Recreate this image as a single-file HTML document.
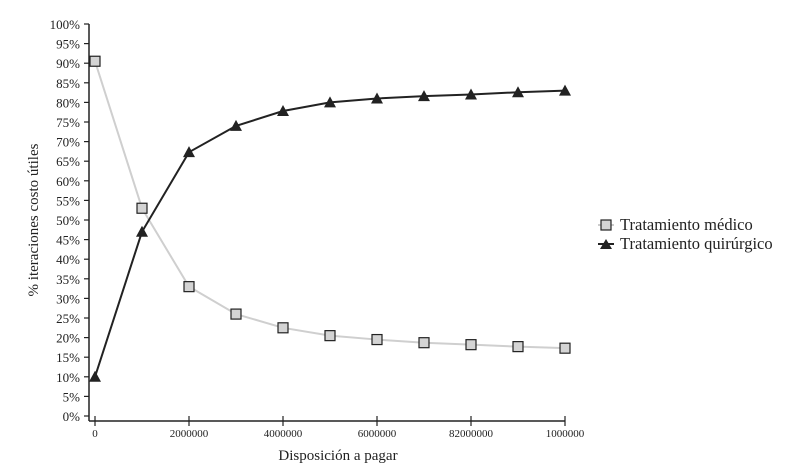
<!DOCTYPE html>
<html><head><meta charset="utf-8"><style>
body{margin:0;background:#fff}
svg text{font-family:"Liberation Serif",serif;fill:#222}
</style></head><body>
<svg id="c" width="802" height="468">
<g id="axes"></g><g id="series"></g>
<g>
<g>
<line x1="598" y1="225" x2="614" y2="225" stroke="#ccc" stroke-width="2"/>
<rect x="601" y="220" width="10" height="10" fill="#d4d4d4" stroke="#222" stroke-width="1.2"/>
<text x="620" y="230" font-size="16.5">Tratamiento médico</text></g>
<g>
<line x1="598" y1="244" x2="614" y2="244" stroke="#222" stroke-width="2"/>
<polygon points="600,249 612,249 606,239" fill="#222"/>
<text x="620" y="249" font-size="16.5">Tratamiento quirúrgico</text></g>
</g>
<text transform="translate(38,220) rotate(-90)" text-anchor="middle" font-size="15">% iteraciones costo útiles</text>
<text x="338" y="460" text-anchor="middle" font-size="15">Disposición a pagar</text>
</svg>
<script>
const categories=[0,1,2,3,4,5,6,7,8,9,10];
const medico=[90.5,53,33,26,22.5,20.5,19.5,18.7,18.2,17.7,17.3];
const quirurgico=[10,47,67.3,74,77.8,80,81,81.6,82,82.6,83];
const xTickLabels=["0","2000000","4000000","6000000","82000000","1000000"];
const yTicks=[0,5,10,15,20,25,30,35,40,45,50,55,60,65,70,75,80,85,90,95,100];
const NS="http://www.w3.org/2000/svg";
const X=i=>95+i*47, Y=v=>416-v*3.92;
function mk(t,a,p){const e=document.createElementNS(NS,t);for(const k in a)e.setAttribute(k,a[k]);p.appendChild(e);return e;}
const ax=document.getElementById('axes'), se=document.getElementById('series');
let l=mk('line',{x1:89,y1:Y(100),x2:89,y2:421,stroke:'#222','stroke-width':1.5},ax);


l=mk('line',{x1:89,y1:421,x2:X(10),y2:421,stroke:'#222','stroke-width':1.5},ax);


yTicks.forEach(v=>{
  mk('line',{x1:84,y1:Y(v),x2:89,y2:Y(v),stroke:'#222','stroke-width':1.2},ax);
  const t=mk('text',{x:80,y:Y(v)+5,'text-anchor':'end','font-size':13},ax);
  t.textContent=v+'%';
  
  
});
xTickLabels.forEach((s,j)=>{
  const x=X(j*2);
  mk('line',{x1:x,y1:416,x2:x,y2:426,stroke:'#222','stroke-width':1.2},ax);
  const t=mk('text',{x:x,y:437,'text-anchor':'middle','font-size':11},ax);
  t.textContent=s;
  
  
});
function series(vals,color,name,marker){
  const p=mk('polyline',{points:vals.map((v,i)=>X(categories[i])+','+Y(v)).join(' '),fill:'none',stroke:color,'stroke-width':2},se);
  
  
  vals.forEach((v,i)=>{
    const x=X(categories[i]),y=Y(v);let m;
    if(marker==='sq')m=mk('rect',{x:x-5,y:y-5,width:10,height:10,fill:'#d4d4d4',stroke:'#222','stroke-width':1.2},se);
    else m=mk('polygon',{points:`${x-6},${y+5} ${x+6},${y+5} ${x},${y-6}`,fill:'#222'},se);
    
    
  });
}
series(medico,'#cfcfcf','medico','sq');
series(quirurgico,'#222','quirurgico','tri');
</script>
</body></html>
